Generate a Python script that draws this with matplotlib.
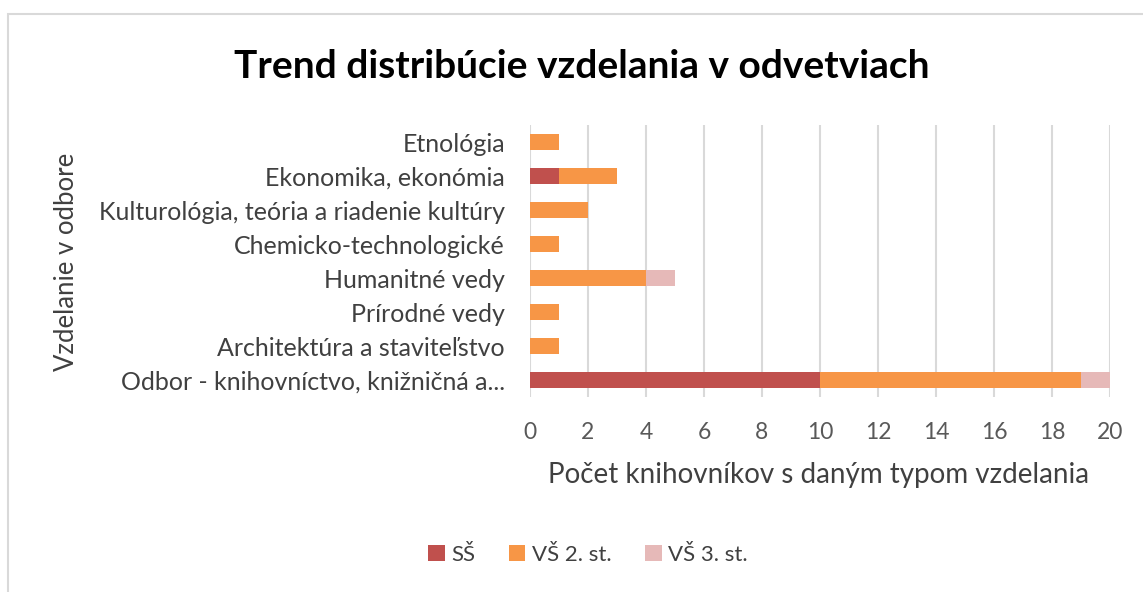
import matplotlib.pyplot as plt
import numpy as np
from matplotlib.patches import Rectangle

plt.rcParams['font.family'] = ['Lato', 'DejaVu Sans']

odbory = ["Odbor - knihovníctvo, knižničná a...",
          "Architektúra a staviteľstvo",
          "Prírodné vedy",
          "Humanitné vedy",
          "Chemicko-technologické",
          "Kulturológia, teória a riadenie kultúry",
          "Ekonomika, ekonómia",
          "Etnológia"]
ss = [10, 0, 0, 0, 0, 0, 1, 0]
vs2 = [9, 1, 1, 4, 1, 2, 2, 1]
vs3 = [1, 0, 0, 1, 0, 0, 0, 0]

fig = plt.figure(figsize=(11.43, 5.92), dpi=100)
fig.patches.append(Rectangle((8/1143, -0.1), 1.2, 1 - 14/592 + 0.1, transform=fig.transFigure,
                             fill=False, edgecolor='#d9d9d9', linewidth=1.5))
ax = fig.add_axes([530/1143, 1 - 397/592, 580/1143, 272/592])

y = np.arange(len(odbory))
h = 0.45
ss = np.array(ss)
vs2 = np.array(vs2)
vs3 = np.array(vs3)
ax.barh(y, ss, height=h, color='#C0504D', label='SŠ', zorder=3)
ax.barh(y, vs2, left=ss, height=h, color='#F79646', label='VŠ 2. st.', zorder=3)
ax.barh(y, vs3, left=ss + vs2, height=h, color='#E6B9B8', label='VŠ 3. st.', zorder=3)

ax.set_xlim(0, 20)
ax.set_ylim(-0.5, len(odbory) - 0.5)
ax.set_xticks(range(0, 21, 2))
ax.set_yticks(y)
ax.set_yticklabels(odbory, fontsize=18, color='#404040')
ax.tick_params(axis='x', labelsize=16.5, labelcolor='#595959', length=0, pad=18)
ax.tick_params(axis='y', length=0, pad=18)
ax.grid(axis='x', color='#d9d9d9', linewidth=1.5, zorder=0)
for s in ax.spines.values():
    s.set_visible(False)

fig.text(582/1143, 1 - 66/592, "Trend distribúcie vzdelania v odvetviach", ha='center', va='center',
         fontsize=28, fontweight='bold', color='black')
fig.text(66/1143, 1 - 262/592, "Vzdelanie v odbore", rotation=90, ha='center', va='center',
         fontsize=18.5, color='#404040')
fig.text(818/1143, 1 - 475/592, "Počet knihovníkov s daným typom vzdelania", ha='center', va='center',
         fontsize=20, color='#404040')

fig.legend(loc='center', bbox_to_anchor=(588/1143, 1 - 555/592), ncol=3, frameon=False,
           fontsize=16, handlelength=0.75, handleheight=0.75, handletextpad=0.3, columnspacing=1.5,
           labelcolor='#404040')

fig.savefig('out.png', dpi=100)
